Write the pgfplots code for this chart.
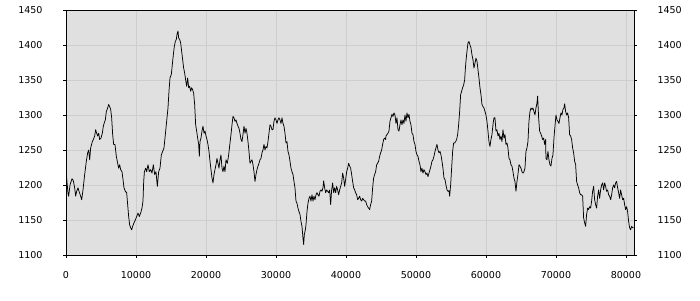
\documentclass[border=0pt]{standalone}
\usepackage{pgfplots}
\pgfplotsset{compat=1.18}
\usepackage{fontspec}
\setmainfont{DejaVu Sans}
\definecolor{bg}{RGB}{224,224,224}
\definecolor{gridc}{RGB}{206,206,206}
\pgfplotstableread{
x y
0 1210
95 1210
286 1188
381 1184
571 1200
857 1209
1048 1206
1238 1196
1381 1184
1524 1191
1714 1196
1857 1191
2095 1184
2238 1179
2429 1193
2667 1215
2905 1234
3095 1246
3238 1250
3381 1236
3524 1253
3762 1262
3905 1265
4095 1270
4238 1279
4381 1274
4524 1270
4667 1274
4810 1265
5000 1267
5190 1274
5333 1284
5476 1289
5619 1293
5762 1305
5952 1310
6095 1315
6238 1312
6381 1308
6524 1296
6667 1272
6810 1258
7000 1258
7190 1241
7381 1231
7524 1224
7667 1229
7810 1222
8000 1219
8143 1208
8286 1196
8476 1191
8667 1189
8810 1172
8952 1155
9095 1143
9238 1139
9381 1136
9524 1141
9714 1146
9905 1150
10095 1155
10286 1160
10476 1155
10667 1160
10857 1167
11000 1177
11100 1205
11200 1219
11381 1224
11524 1219
11714 1229
11905 1219
12095 1222
12286 1217
12476 1229
12667 1215
12857 1219
13048 1198
13238 1219
13429 1224
13619 1243
13810 1248
14000 1253
14190 1272
14381 1291
14571 1310
14714 1334
14857 1353
15048 1358
15190 1372
15333 1386
15476 1398
15619 1405
15762 1408
15857 1415
16000 1420
16095 1410
16238 1408
16381 1403
16524 1391
16667 1379
16810 1367
16952 1360
17095 1350
17238 1341
17381 1353
17524 1339
17667 1341
17810 1334
17952 1339
18095 1336
18238 1331
18381 1315
18524 1286
18667 1277
18810 1267
18952 1258
19048 1241
19143 1262
19286 1267
19429 1277
19571 1284
19714 1274
19857 1277
20000 1270
20143 1265
20286 1258
20429 1248
20571 1234
20714 1222
20857 1210
21000 1203
21143 1215
21286 1222
21429 1229
21571 1238
21714 1231
21857 1224
22000 1236
22143 1243
22286 1224
22429 1219
22571 1227
22714 1219
22857 1236
23048 1231
23238 1243
23429 1260
23571 1272
23714 1286
23857 1298
24000 1296
24143 1291
24286 1293
24429 1288
24571 1284
24714 1281
24857 1274
25000 1265
25143 1262
25286 1272
25429 1284
25571 1274
25714 1281
25857 1274
26000 1262
26143 1248
26286 1231
26429 1234
26571 1236
26714 1229
26857 1219
27000 1205
27143 1215
27286 1222
27429 1227
27571 1231
27714 1236
27857 1238
28000 1246
28143 1250
28286 1258
28429 1250
28571 1255
28714 1253
28857 1262
29000 1274
29143 1286
29286 1284
29429 1279
29571 1279
29714 1291
29857 1296
30000 1293
30143 1288
30286 1293
30429 1296
30571 1293
30714 1288
30857 1296
31000 1288
31143 1284
31286 1274
31429 1260
31571 1262
31714 1248
31857 1243
32000 1234
32143 1224
32286 1219
32429 1215
32571 1205
32714 1196
32857 1177
33000 1174
33143 1167
33286 1162
33429 1158
33571 1148
33714 1141
33857 1124
33952 1115
34048 1129
34190 1136
34286 1143
34429 1162
34571 1174
34714 1181
34857 1184
35000 1177
35143 1186
35286 1177
35429 1184
35571 1179
35714 1186
35857 1189
36000 1186
36143 1184
36286 1191
36429 1193
36571 1191
36714 1196
36810 1206
36952 1196
37095 1189
37238 1193
37381 1191
37524 1189
37667 1193
37810 1172
37952 1193
38095 1203
38238 1189
38381 1196
38524 1189
38667 1198
38810 1193
38952 1186
39095 1193
39238 1198
39381 1203
39524 1217
39667 1210
39810 1198
39952 1208
40095 1219
40238 1224
40381 1231
40524 1227
40667 1224
40810 1215
40952 1205
41095 1196
41238 1193
41381 1189
41524 1186
41667 1179
41810 1181
41952 1184
42095 1179
42238 1177
42381 1181
42524 1179
42667 1177
42810 1177
42952 1172
43095 1169
43238 1167
43381 1165
43524 1172
43667 1177
43810 1196
43952 1210
44095 1215
44238 1219
44381 1229
44524 1231
44667 1234
44810 1241
44952 1246
45095 1250
45238 1258
45381 1265
45524 1267
45667 1265
45714 1270
45857 1272
46000 1274
46143 1277
46286 1291
46429 1296
46571 1301
46714 1298
46857 1303
47000 1300
47143 1288
47286 1296
47429 1279
47571 1277
47714 1286
47857 1293
48000 1286
48143 1293
48286 1288
48429 1300
48571 1291
48714 1303
48857 1296
49000 1301
49143 1291
49286 1286
49429 1274
49571 1272
49714 1262
49857 1258
50000 1248
50143 1243
50286 1241
50429 1234
50571 1229
50714 1219
50857 1224
51000 1217
51143 1222
51286 1219
51429 1215
51571 1217
51714 1212
51857 1217
52000 1222
52143 1227
52286 1234
52429 1236
52571 1241
52714 1248
52857 1253
53000 1258
53143 1250
53286 1246
53429 1248
53571 1243
53714 1234
53857 1224
54000 1210
54143 1208
54286 1200
54429 1193
54571 1191
54714 1192
54810 1184
54952 1200
55095 1224
55238 1248
55381 1260
55524 1260
55667 1262
55810 1265
55952 1272
56095 1286
56238 1305
56381 1329
56524 1334
56667 1339
56810 1343
56952 1350
57048 1365
57143 1377
57286 1391
57429 1403
57571 1405
57714 1400
57857 1396
58000 1386
58143 1379
58286 1367
58429 1374
58571 1381
58714 1377
58857 1365
59000 1353
59143 1339
59286 1329
59429 1315
59571 1312
59714 1310
59857 1305
60000 1300
60143 1291
60286 1277
60429 1262
60571 1255
60714 1265
60857 1272
61000 1286
61143 1296
61286 1296
61429 1277
61571 1279
61714 1270
61857 1274
62000 1265
62143 1270
62286 1262
62429 1279
62571 1267
62714 1272
62857 1258
63000 1260
63143 1253
63286 1238
63429 1236
63571 1229
63714 1227
63857 1219
64000 1210
64143 1205
64286 1191
64429 1205
64571 1215
64714 1229
64857 1227
65000 1224
65143 1219
65286 1217
65429 1219
65571 1224
65714 1248
65857 1253
66000 1262
66143 1291
66286 1305
66429 1310
66571 1308
66714 1310
66857 1305
67000 1300
67143 1310
67286 1317
67381 1327
67524 1296
67667 1277
67810 1274
67952 1270
68095 1265
68238 1267
68381 1258
68524 1265
68571 1238
68714 1236
68857 1248
69000 1236
69143 1229
69286 1227
69429 1238
69571 1243
69714 1267
69857 1284
70000 1300
70143 1293
70286 1291
70429 1288
70571 1296
70714 1303
70857 1300
71000 1308
71143 1310
71238 1316
71381 1305
71524 1300
71667 1303
71810 1296
71952 1272
72095 1270
72238 1265
72381 1253
72524 1246
72667 1234
72810 1229
72952 1205
73095 1200
73238 1196
73381 1189
73524 1186
73667 1186
73810 1184
73952 1153
74095 1146
74238 1141
74381 1158
74524 1167
74667 1165
74810 1169
74952 1167
75095 1177
75238 1191
75381 1198
75524 1179
75667 1172
75810 1167
75952 1184
76095 1193
76238 1181
76381 1193
76524 1200
76667 1203
76810 1193
76952 1203
77095 1198
77238 1191
77381 1193
77524 1186
77667 1184
77810 1179
77952 1186
78095 1196
78238 1200
78381 1196
78524 1203
78667 1205
78810 1196
78952 1189
79095 1181
79238 1193
79381 1186
79524 1179
79667 1181
79810 1172
79952 1165
80095 1169
80238 1162
80381 1148
80524 1139
80667 1136
80810 1141
80952 1139
81095 1139
}\datatable
\begin{document}
\begin{tikzpicture}[x=1pt,y=1pt]
\useasboundingbox (0,0) rectangle (700,300);
\pgfplotsset{
  common/.style={
    at={(66pt,45pt)}, anchor=south west,
    scale only axis, width=568pt, height=245pt,
    xmin=0, xmax=81150, ymin=1100, ymax=1450,
    ytick={1100,1150,...,1450},
    xtick={0,10000,...,80000},
    scaled x ticks=false,
    tick align=outside, major tick length=3pt,
    tick style={black, line width=0.6pt},
    ticklabel style={font=\fontsize{9.5}{10}\selectfont, text=black},
    /pgf/number format/assume math mode=true,
    /pgf/number format/1000 sep={},
  }
}
\begin{axis}[common,
  axis background/.style={fill=bg},
  grid=major, grid style={gridc, line width=0.8pt},
  axis line style={black, line width=0.8pt},
  ytick pos=left, xtick pos=bottom,
  yticklabel style={xshift=-17pt},
  xticklabel style={yshift=-10pt},
]
\addplot[black, line width=0.75pt, line join=round] table[x=x,y=y] {\datatable};
\end{axis}
\begin{axis}[common,
  axis line style={draw=none},
  ytick pos=right, yticklabel pos=right,
  xtick=\empty, xticklabels={},
  yticklabel style={xshift=17pt},
]
\addplot[draw=none] coordinates {(0,1100)};
\end{axis}
\end{tikzpicture}
\end{document}
